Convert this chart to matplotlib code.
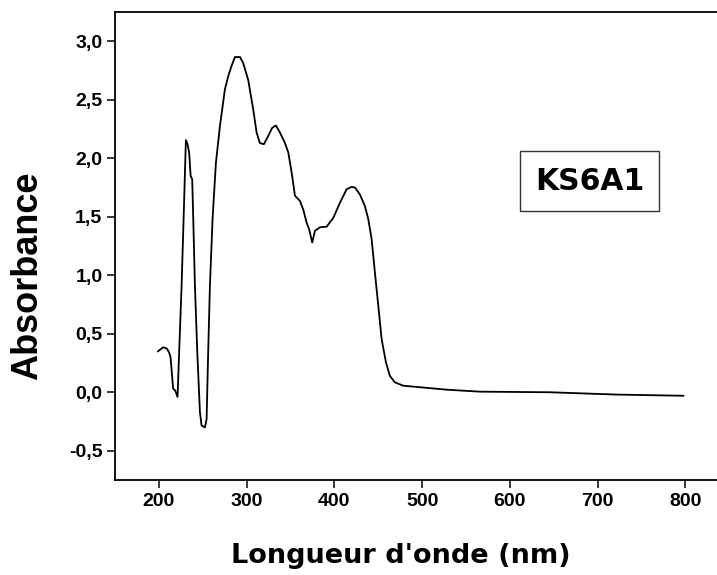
import matplotlib
matplotlib.use("Agg")
import matplotlib.pyplot as plt
from matplotlib import font_manager
from matplotlib.patches import Rectangle

# spectrum
wavelength = [199, 204.9, 208.8, 211.7, 213.3, 216.3, 218.6, 221.3, 223.1, 225.9,
              228.5, 230.8, 232.7, 234.5, 236.2, 238.0, 239.2, 241.1, 243.8, 246.8,
              248.7, 252.5, 254.4, 256.2, 258.2, 261.2, 265.0, 269.6, 275.3, 279.0,
              282.9, 286.7, 292.4, 296.1, 301.8, 307.5, 311.4, 315.1, 319.7, 324.6,
              329.2, 333.4, 338.0, 343.7, 347.5, 351.3, 355.1, 360.8, 364.6, 368.4,
              371.4, 374.8, 377.9, 383.6, 391.2, 398.8, 406.4, 414.0, 419.6, 423.5,
              429.2, 434.9, 438.7, 442.5, 446.3, 450.1, 453.9, 458.8, 463.3, 469.0,
              478.5, 497.6, 528.0, 566.0, 645.8, 721.9, 797.8]
absorbance = [0.35, 0.384, 0.375, 0.34, 0.30, 0.03, 0.015, -0.04, 0.34, 0.91,
              1.56, 2.155, 2.12, 2.05, 1.85, 1.82, 1.48, 0.91, 0.34, -0.17,
              -0.285, -0.30, -0.23, 0.34, 0.91, 1.48, 1.96, 2.275, 2.59, 2.70,
              2.79, 2.865, 2.865, 2.815, 2.67, 2.42, 2.22, 2.13, 2.12, 2.19,
              2.26, 2.28, 2.22, 2.13, 2.05, 1.88, 1.68, 1.635, 1.56, 1.45,
              1.39, 1.28, 1.38, 1.41, 1.415, 1.49, 1.62, 1.735, 1.755, 1.75,
              1.69, 1.59, 1.48, 1.31, 1.02, 0.74, 0.455, 0.256, 0.14, 0.085,
              0.056, 0.043, 0.022, 0.005, 0.0, -0.02, -0.03]

xticks = [200, 300, 400, 500, 600, 700, 800]
yticks = [-0.5, 0.0, 0.5, 1.0, 1.5, 2.0, 2.5, 3.0]
ytick_labels = ["-0,5", "0,0", "0,5", "1,0", "1,5", "2,0", "2,5", "3,0"]

# condensed bold if it is there, plain DejaVu bold otherwise
names = {f.name for f in font_manager.fontManager.ttflist}
if "DejaVu Sans Condensed" in names:
    title_font, lab_size, box_size = "DejaVu Sans Condensed", 21.5, 24
else:
    title_font, lab_size, box_size = "DejaVu Sans", 19.5, 21.5

W, H = 717, 575
fig = plt.figure(figsize=(W / 100, H / 100), dpi=100)
ax = fig.add_axes([115 / W, 1 - 480 / H, (773 - 115) / W, (480 - 12) / H])

ax.plot(wavelength, absorbance, color="black", lw=1.3)
ax.set_xlim(150, 900)
ax.set_ylim(-0.75, 3.25)

ax.set_xticks(xticks)
ax.set_xticklabels([str(t) for t in xticks])
ax.set_yticks(yticks)
ax.set_yticklabels(ytick_labels)
for lab in ax.get_xticklabels() + ax.get_yticklabels():
    lab.set_fontfamily("Liberation Sans")
    lab.set_fontweight("bold")
    lab.set_fontsize(14)
ax.tick_params(direction="out", length=6, width=1.1, pad=3)
for s in ax.spines.values():
    s.set_linewidth(1.3)
ax.spines["right"].set_visible(False)  # falls outside the picture anyway

fig.text(401 / W, 1 - 556 / H, "Longueur d'onde (nm)", ha="center", va="center",
         fontfamily=title_font, fontweight="bold", fontsize=lab_size)
fig.text(28 / W, 1 - 276 / H, "Absorbance", ha="center", va="center", rotation=90,
         fontfamily="Liberation Sans", fontweight="bold", fontsize=26)

# sample label box
fig.patches.append(Rectangle((520 / W, 1 - 211 / H), 139 / W, 60 / H,
                             transform=fig.transFigure, fill=False,
                             edgecolor="#333333", lw=1))
fig.text(589.5 / W, 1 - 181 / H, "KS6A1", ha="center", va="center",
         fontfamily=title_font, fontweight="bold", fontsize=box_size)

fig.savefig("out.png", dpi=100)
